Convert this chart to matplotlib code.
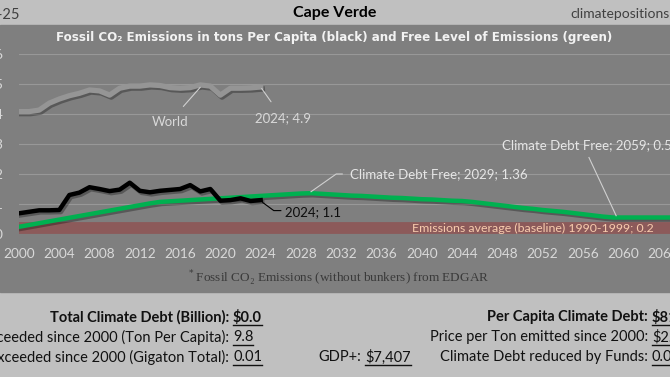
import numpy as np
import matplotlib.pyplot as plt
import matplotlib.patheffects as pe
from matplotlib.patches import Rectangle
from matplotlib.lines import Line2D

# ---------- данные ----------
years = list(range(2000, 2025))
cape_verde = [0.69, 0.74, 0.79, 0.79, 0.80, 1.30, 1.38, 1.56, 1.50, 1.43, 1.48, 1.71,
              1.44, 1.39, 1.44, 1.47, 1.50, 1.63, 1.42, 1.50, 1.11, 1.13, 1.19, 1.10, 1.13]
world = [4.08, 4.08, 4.13, 4.36, 4.50, 4.61, 4.69, 4.80, 4.77, 4.63, 4.86, 4.93,
         4.93, 4.97, 4.95, 4.88, 4.86, 4.88, 4.97, 4.93, 4.63, 4.86, 4.86, 4.87, 4.90]

free_years = list(range(2000, 2071))
free_level = [0.24, 0.30, 0.36, 0.42, 0.48, 0.54, 0.60, 0.66, 0.72, 0.78, 0.84, 0.90,
              0.96, 1.02, 1.07, 1.09, 1.11, 1.13, 1.15, 1.17, 1.19, 1.21, 1.23, 1.25,
              1.27, 1.29, 1.31, 1.33, 1.35, 1.36, 1.34, 1.32, 1.30, 1.28, 1.27, 1.25,
              1.23, 1.21, 1.20, 1.18, 1.16, 1.15, 1.13, 1.11, 1.10, 1.07, 1.03, 0.99,
              0.95, 0.91, 0.87, 0.84, 0.80, 0.77, 0.74, 0.70, 0.66, 0.62, 0.58, 0.55,
              0.55, 0.55, 0.55, 0.55, 0.55, 0.55, 0.55, 0.55, 0.55, 0.55, 0.55]
baseline = 0.2

x_ticks = list(range(2000, 2069, 4))
y_ticks = [0, 1, 2, 3, 4, 5, 6]

W, H = 670, 377


def fx(x):
    return x / W


def fy(y):
    return 1 - y / H


fig = plt.figure(figsize=(6.7, 3.77), dpi=100, facecolor='#c0c0c0')
fig.patches.append(Rectangle((0, fy(292)), 1, (292 - 25) / H, transform=fig.transFigure,
                             color='#7f7f7f', zorder=-10))

# ось: 2000 -> x=19px, 0 -> y=234px, 6 -> y=54px, 10.07 px на год
x0_px, y0_px, ytop_px = 19, 234, 54
ax = fig.add_axes([fx(x0_px), fy(y0_px), 70 * 10.07 / W, (y0_px - ytop_px) / H])
ax.set_facecolor('none')
ax.set_xlim(2000, 2070)
ax.set_ylim(0, 6)
for s in ax.spines.values():
    s.set_visible(False)
ax.set_xticks(x_ticks)
ax.set_yticks(y_ticks)
ax.tick_params(length=0, colors='#d9d9d9', labelsize=9.8)
ax.tick_params(axis='x', pad=10)
ax.tick_params(axis='y', pad=12)
for lab in ax.get_xticklabels() + ax.get_yticklabels():
    lab.set_family('Lato')
ax.grid(axis='y', color='#989898', lw=0.8)
ax.set_axisbelow(True)

shadow = [pe.SimpleLineShadow(offset=(1.2, -1.5), shadow_color='black', alpha=0.3), pe.Normal()]

ax.axhline(baseline, color='#8c5a5a', lw=8.5, zorder=1, solid_capstyle='butt')
ax.plot(years, world, color='#959595', lw=3.8, zorder=2, path_effects=shadow)
ax.plot(free_years, free_level, color='#00b050', lw=3.2, zorder=3, path_effects=shadow)
ax.plot(years, cape_verde, color='black', lw=3.2, zorder=4, path_effects=shadow)

fs = 9.5
lead = dict(color='#d0d0d0', lw=0.8)
ax.annotate('World', xy=(2018, world[18] - 0.08), xytext=(2015, 3.75), color='#d9d9d9',
            fontsize=fs, family='Lato', ha='center', va='center',
            arrowprops=dict(arrowstyle='-', **lead, shrinkA=6, shrinkB=0))
ax.annotate('2024; 4.9', xy=(2024.1, world[-1] - 0.05), xytext=(2026.2, 3.85), color='#d9d9d9',
            fontsize=fs, family='Lato', ha='center', va='center',
            arrowprops=dict(arrowstyle='-', **lead, shrinkA=7, shrinkB=0))
ax.plot([2024.2, 2025.3, 2026.0], [cape_verde[-1] - 0.08, 0.78, 0.78], color='black', lw=0.8, zorder=5)
ax.text(2026.4, 0.74, '2024; 1.1', color='#0d0d0d', fontsize=fs, family='Lato', va='center')
ax.plot([2029, 2031.5, 2032.1], [free_level[29] + 0.05, 2.0, 2.0], zorder=5, **lead)
ax.text(2032.9, 2.0, 'Climate Debt Free; 2029; 1.36', color='#e6e6e6', fontsize=fs,
        family='Lato', va='center')
ax.plot([2059.3, 2056.6], [free_level[59] + 0.06, 2.55], zorder=5, **lead)
ax.text(2048.0, 2.97, 'Climate Debt Free; 2059; 0.54', color='#e6e6e6', fontsize=fs,
        family='Lato', va='center')
ax.text(2039.0, 0.18, 'Emissions average (baseline) 1990-1999; 0.2', color='#f8cbad',
        fontsize=8.9, family='Lato', va='center', zorder=6)

# ---------- заголовки ----------
fig.text(fx(335), fy(13), 'Cape Verde', ha='center', va='center', fontsize=11.5,
         weight='bold', family='Lato', color='black')
fig.text(fx(570), fy(14), 'climatepositions.com', ha='left', va='center', fontsize=10,
         family='Lato', color='#404040')
fig.text(fx(20), fy(15), '2024-25', ha='right', va='center', fontsize=10.5,
         family='Lato', color='#404040')
fig.text(fx(334), fy(38), 'Fossil CO₂ Emissions in tons Per Capita (black) and Free Level of Emissions (green)',
         ha='center', va='center', fontsize=8.6, weight='bold', family=['DejaVu Sans'],
         color='#f2f2f2')
fig.text(fx(338), fy(278), '$^*$Fossil CO₂ Emissions (without bunkers) from EDGAR', ha='center',
         va='center', fontsize=9.5, family=['Liberation Serif', 'DejaVu Serif'], color='#3a3a3a')

# ---------- нижний блок ----------
rows = [
    (fx(229), fy(317), 'Total Climate Debt (Billion):', '$0.0', True),
    (fx(229), fy(337), 'Fossil CO₂ exceeded since 2000 (Ton Per Capita):', '9.8', False),
    (fx(229), fy(357), 'Fossil CO₂ exceeded since 2000 (Gigaton Total):', '0.01', False),
    (fx(648), fy(317), 'Per Capita Climate Debt:', '$81', True),
    (fx(648), fy(337), 'Price per Ton emitted since 2000:', '$2.3', False),
    (fx(648), fy(357), 'Climate Debt reduced by Funds:', '0.0%', False),
    (fx(361), fy(357), 'GDP+:', '$7,407', False),
]
values = []
for x, y, label, val, bold in rows:
    w = 'bold' if bold else 'normal'
    fig.text(x, y, label, ha='right', va='center', fontsize=10.5, family=['Lato', 'DejaVu Sans'],
             weight=w, color='#111111')
    t = fig.text(x + fx(4), y, val.replace('$', r'\$'), ha='left', va='center', fontsize=10.5,
                 family='Lato', weight=w, color='#111111')
    values.append(t)

fig.canvas.draw()
r = fig.canvas.get_renderer()
for t in values:
    bb = t.get_window_extent(r)
    yl = (bb.y0 - 0.5) / (H)
    fig.add_artist(Line2D([bb.x0 / W, bb.x1 / W], [yl, yl], transform=fig.transFigure,
                          color='#111111', lw=1.0))

fig.savefig('out.png', dpi=100, facecolor=fig.get_facecolor())
